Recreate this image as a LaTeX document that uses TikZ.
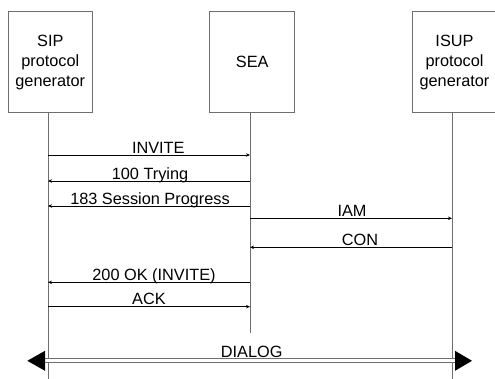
\documentclass[tikz,border=0pt]{standalone}
\usepackage{fontspec}
\setmainfont{Liberation Sans}
\usetikzlibrary{arrows.meta}
\definecolor{linegray}{HTML}{6E6E6E}
\begin{document}
\begin{tikzpicture}[x=1pt,y=-1pt,
  txt/.style={font=\fontsize{16.3}{20}\selectfont},
  ent/.style={txt, draw=linegray, line width=1pt, minimum width=84.5pt, minimum height=101pt, inner sep=0pt, align=center},
  life/.style={draw=linegray, line width=1pt},
  msg/.style={draw=black, line width=0.8pt, -{Stealth[length=4pt,width=3.5pt]}},
  lbl/.style={txt, anchor=base, inner sep=0pt},
  dlg/.style={draw=linegray, line width=1pt, double=white, double distance=2.7pt},
  tip/.style={fill=black}
]
\useasboundingbox (0,0) rectangle (495,379);

% entities
\node[ent] (sip) at (50.3,62.2) {SIP\\protocol\\generator};
\node[ent] (sea) at (252.2,62.2) {SEA};
\node[ent] (isup) at (454.5,62.2) {ISUP\\protocol\\generator};

% lifelines
\coordinate (sipb) at (48,379);
\coordinate (seab) at (250,333);
\coordinate (isupb) at (452,379);
\draw[life] (sip.south -| sipb) -- (sipb);
\draw[life] (sea.south -| seab) -- (seab);
\draw[life] (isup.south -| isupb) -- (isupb);

% message end points
\path (48,155) coordinate (m1a) (250,155) coordinate (m1b)
      (48,181) coordinate (m2a) (250,181) coordinate (m2b)
      (48,206) coordinate (m3a) (250,206) coordinate (m3b)
      (250,218.3) coordinate (m4a) (452,218.3) coordinate (m4b)
      (250,247.3) coordinate (m5a) (452,247.3) coordinate (m5b)
      (48,282.3) coordinate (m6a) (250,282.3) coordinate (m6b)
      (48,306.7) coordinate (m7a) (250,306.7) coordinate (m7b);

\draw[msg] (m1a) -- (m1b);
\draw[msg] (m2b) -- (m2a);
\draw[msg] (m3b) -- (m3a);
\draw[msg] (m4a) -- (m4b);
\draw[msg] (m5b) -- (m5a);
\draw[msg] (m6b) -- (m6a);
\draw[msg] (m7a) -- (m7b);

\node[lbl] (l1) at (158.3,153.5) {INVITE};
\node[lbl] (l2) at (150,179.5) {100 Trying};
\node[lbl] (l3) at (150,204.5) {183 Session Progress};
\node[lbl] (l4) at (352,216.3) {IAM};
\node[lbl] (l5) at (360,245.5) {CON};
\node[lbl] (l6) at (154,280.5) {200 OK (INVITE)};
\node[lbl] (l7) at (149,305) {ACK};

% dialog
\coordinate (dl) at (45,360.8);
\coordinate (dr) at (455,360.8);
\coordinate (dlt) at (27.3,360.8);
\coordinate (drt) at (472,360.8);
\draw[dlg] (dl) -- (dr);
\fill[tip] (dlt) -- ([yshift=-10pt]dl) -- ([yshift=10pt]dl) -- cycle;
\fill[tip] (drt) -- ([yshift=-10pt]dr) -- ([yshift=10pt]dr) -- cycle;
\node[lbl] (dlab) at (251.7,357.3) {DIALOG};
\end{tikzpicture}
\end{document}
